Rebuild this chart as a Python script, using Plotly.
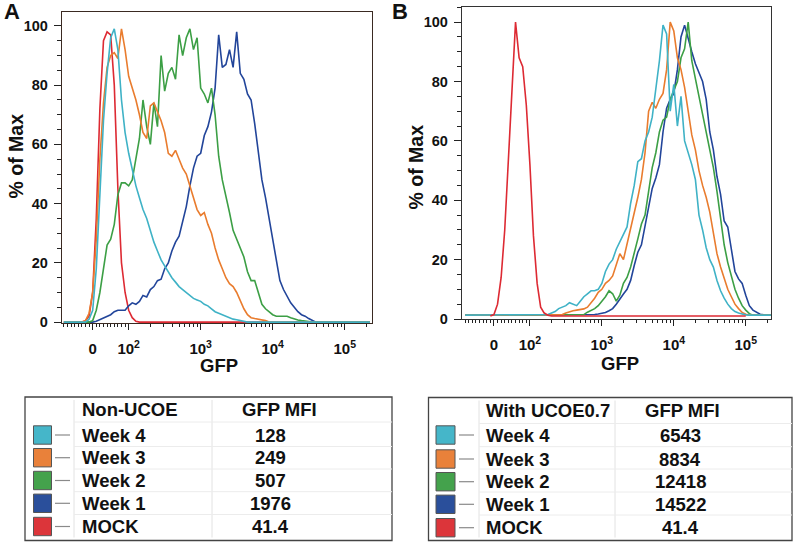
import numpy as np
import plotly.graph_objects as go

# ---------------- data ----------------
# GFP histogram bin centres (fluorescence intensity)
GFP_BINS = [
    -80, -70, -60, -50, -40, -30, -20, -10, 0, 10,
    20, 30, 40, 50, 60, 70, 80, 90,
    100, 112, 126, 141, 158, 178, 200, 224, 251, 282, 316, 355, 398, 447, 501, 562, 631, 708, 794, 891,
    1000, 1122, 1259, 1413, 1585, 1778, 1995, 2239, 2512, 2818, 3162, 3548, 3981, 4467, 5012, 5623, 6310, 7079, 7943, 8913,
    10000, 11220, 12589, 14125, 15849, 17783, 19953, 22387, 25119, 28184, 31623, 35481, 39811, 44668, 50119, 56234, 63096, 70795, 79433, 89125,
    100000, 112202, 125893, 141254, 158489, 177828, 199526, 223872,
]

# Panel A (Non-UCOE), % of max
A_MOCK = [
    0, 0, 0, 0, 0, 0, 0.5, 2, 10, 35,
    72, 95, 98, 97, 80, 45, 20, 10, 4, 1.5,
    0.3, 0, 0, 0, 0, 0, 0, 0, 0, 0,
    0, 0, 0, 0, 0, 0, 0, 0, 0, 0,
    0, 0, 0, 0, 0, 0, 0, 0, 0, 0,
    0, 0, 0, 0, 0, 0, 0, 0, 0, 0,
    0, 0, 0, 0, 0, 0, 0, 0, 0, 0,
    0, 0, 0, 0, 0, 0, 0, 0, 0, 0,
    0, 0, 0, 0, 0, 0,
]
A_WEEK4 = [
    0, 0, 0, 0, 0, 0, 0, 1, 4, 18,
    45, 68, 84, 96, 99, 92, 75, 64, 57, 51,
    46, 42, 38, 35, 31, 27, 24, 21, 19, 17,
    15, 13.5, 12, 11, 10, 9, 8, 7.5, 7, 6,
    5.5, 4.5, 3.5, 3, 2.5, 2, 1.5, 1, 0.8, 0.5,
    0.3, 0, 0, 0, 0, 0, 0, 0, 0, 0,
    0, 0, 0, 0, 0, 0, 0, 0, 0, 0,
    0, 0, 0, 0, 0, 0, 0, 0, 0, 0,
    0, 0, 0, 0, 0, 0,
]
A_WEEK3 = [
    0, 0, 0, 0, 0, 0, 0.5, 3, 10, 28,
    55, 74, 86, 90, 91, 89, 99, 92, 83, 79,
    75, 70, 64, 62, 73, 74, 71, 68, 64, 57,
    56, 58, 55, 52, 50, 46, 42, 38, 36, 37,
    33, 30, 25, 21, 18, 15, 13, 12, 10, 7,
    4.5, 2.5, 1.5, 1.2, 1, 0.8, 0.5, 0, 0, 0,
    0, 0, 0, 0, 0, 0, 0, 0, 0, 0,
    0, 0, 0, 0, 0, 0, 0, 0, 0, 0,
    0, 0, 0, 0, 0, 0,
]
A_WEEK2 = [
    0, 0, 0, 0, 0, 0, 0, 0, 0.5, 4,
    10, 18, 26, 28, 33, 43, 47, 47, 46, 48,
    55, 62, 75, 66, 60, 74, 66, 90, 78, 84,
    86, 82, 97, 90, 96, 99, 92, 96, 79, 77,
    74, 79, 70, 56, 48, 43, 37, 31, 28, 25,
    22, 17, 14, 14, 10, 6, 4.5, 3.5, 2.5, 2,
    2, 2, 2, 1.5, 1, 0.7, 0.5, 0.3, 0, 0,
    0, 0, 0, 0, 0, 0, 0, 0, 0, 0,
    0, 0, 0, 0, 0, 0,
]
A_WEEK1 = [
    0, 0, 0, 0, 0, 0, 0, 0, 0, 0.3,
    0.8, 1.5, 2, 2.5, 3.5, 4, 4, 4, 5.5, 6.5,
    6, 7, 9, 8.5, 11, 12, 14, 14.5, 18, 20,
    24, 27, 29, 34, 39, 46, 52, 56, 57, 63,
    66, 71, 79, 97, 86, 87, 92, 86, 98, 84,
    82, 77, 75, 67, 57, 48, 42, 35, 27, 20,
    14, 11, 8.5, 6.5, 5, 3.5, 2.5, 2, 1.2, 0.5,
    0, 0, 0, 0, 0, 0, 0, 0, 0, 0,
    0, 0, 0, 0, 0, 0,
]

# Panel B (With UCOE0.7), % of max
B_MOCK = [
    None, None, None, None, None, None, None, 1.0, 1.5, 5,
    14, 30, 53, 76, 100, 88, 85, 72, 52, 28,
    12, 4, 2, 1.3, 1, 1, 1, 1, 1, 1,
    1, 1, 1, 1, 1, 1, 1, 1, 1, 1,
    1, 1, 1, 1, 1, 1, 1, 1, 1, 1,
    1, 1, 1, 1, 1, 1, 1, 1, 1, 1,
    1, 1, 1, 1, 1, 1, 1, 1, 1, 1,
    1, 1, 1, 1, 1, 1, 1, 1, 1, None,
    None, None, None, None, None, None,
]
B_WEEK4 = [
    1.3, 1.3, 1.3, 1.3, 1.3, 1.3, 1.3, 1.3, 1.3, 1.3,
    1.3, 1.3, 1.3, 1.3, 1.3, 1.3, 1.3, 1.3, 1.3, 1.3,
    1.3, 1.3, 1.3, 1.5, 2, 2.5, 3.5, 4, 4.5, 5.5,
    5, 4.5, 6, 7.5, 8.5, 9.5, 9.5, 10, 12, 16,
    18.5, 20, 23.5, 26, 28.5, 31, 39, 45, 53, 54,
    60, 63, 68, 77, 87, 99, 96, 70, 79, 65,
    75, 60, 56, 52, 47, 35, 30, 24, 20, 17.5,
    13, 9.5, 7, 5, 3.5, 2.5, 2, 1.6, 1.4, 1.3,
    1.3, 1.3, 1.3, 1.3, 1.3, 1.3,
]
B_WEEK3 = [
    1.3, 1.3, 1.3, 1.3, 1.3, 1.3, 1.3, 1.3, 1.3, 1.3,
    1.3, 1.3, 1.3, 1.3, 1.3, 1.3, 1.3, 1.3, 1.3, 1.3,
    1.3, 1.3, 1.3, 1.3, 1.3, 1.3, 1.3, 1.5, 2, 2.5,
    2.8, 3, 3.2, 3.4, 4, 5.5, 7, 9, 10, 12,
    13, 14.5, 18, 22, 20, 25, 30, 35, 41, 47,
    56, 70, 73, 71, 74, 76, 84, 100, 97, 88,
    84, 78, 70, 62, 57, 50, 45, 41, 36, 29,
    22, 17.5, 14, 10, 7.5, 5, 3.5, 2.2, 1.6, 1.3,
    1.3, 1.3, 1.3, 1.3, 1.3, 1.3,
]
B_WEEK2 = [
    1.3, 1.3, 1.3, 1.3, 1.3, 1.3, 1.3, 1.3, 1.3, 1.3,
    1.3, 1.3, 1.3, 1.3, 1.3, 1.3, 1.3, 1.3, 1.3, 1.3,
    1.3, 1.3, 1.3, 1.3, 1.3, 1.3, 1.3, 1.3, 1.3, 1.3,
    1.3, 1.3, 1.3, 1.5, 2.3, 3, 3.5, 4.5, 6, 7.5,
    9.5, 8.5, 6, 8, 12, 14, 17.5, 22, 27, 32,
    35, 43, 51, 56, 63, 67, 68, 74, 77, 80,
    88, 91, 100, 87, 81, 75, 69, 63, 57, 51,
    43, 33, 25, 19, 14, 10, 7, 4.5, 3, 1.8,
    1.3, 1.3, 1.3, 1.3, 1.3, 1.3,
]
B_WEEK1 = [
    1.3, 1.3, 1.3, 1.3, 1.3, 1.3, 1.3, 1.3, 1.3, 1.3,
    1.3, 1.3, 1.3, 1.3, 1.3, 1.3, 1.3, 1.3, 1.3, 1.3,
    1.3, 1.3, 1.3, 1.3, 1.3, 1.3, 1.3, 1.3, 1.3, 1.3,
    1.3, 1.3, 1.3, 1.3, 1.3, 1.4, 1.5, 1.7, 2, 2.2,
    2.8, 3.5, 5, 6.5, 8.4, 10, 13, 18, 22.5, 25,
    31, 37, 44, 47.5, 52, 63, 71, 74, 76, 84,
    95, 99, 94, 90, 86, 83, 80, 74, 63, 57,
    48, 42, 33, 31, 23, 16, 13.5, 12, 8, 4.5,
    3, 2.2, 1.6, 1.4, 1.3, 1.3,
]

ROW_NAMES = ["Week 4", "Week 3", "Week 2", "Week 1", "MOCK"]
A_MFI = ["128", "249", "507", "1976", "41.4"]
B_MFI = ["6543", "8834", "12418", "14522", "41.4"]
A_HEADER = "Non-UCOE"
B_HEADER = "With UCOE0.7"
MFI_HEADER = "GFP MFI"

X_TICK_VALUES = [0, 100, 1000, 10000, 100000]
X_TICK_LABELS = ["0", "10<sup>2</sup>", "10<sup>3</sup>", "10<sup>4</sup>", "10<sup>5</sup>"]
X_MINOR_VALUES = [-80, -70, -60, -50, -40, -30, -20, -10,
                  10, 20, 30, 40, 50, 60, 70, 80, 90,
                  200, 300, 400, 500, 600, 700, 800, 900,
                  2000, 3000, 4000, 5000, 6000, 7000, 8000, 9000,
                  20000, 30000, 40000, 50000, 60000, 70000, 80000, 90000,
                  200000]
Y_TICK_VALUES = [0, 20, 40, 60, 80, 100]

# ---------------- styling ----------------
COLORS = {"Week 4": "#3fb2c6", "Week 3": "#e97c2e", "Week 2": "#3c9f45",
          "Week 1": "#22459a", "MOCK": "#dd2a33"}
SWATCH = {"Week 4": "#45b6c9", "Week 3": "#e9813a", "Week 2": "#44a24c",
          "Week 1": "#2a4f9b", "MOCK": "#dc353a"}
FONT = "Liberation Sans, Arial, sans-serif"
W, H = 800, 545


def display(v):
    """Biexponential-like display transform: linear near zero, log above 100."""
    v = np.asarray(v, dtype=float)
    return np.where(v >= 100, np.log10(np.maximum(v, 100)), 1.5 + v / 200.0)


def px(x):
    return x / W


def py(y):
    return 1 - y / H


fig = go.Figure()
xb = display(GFP_BINS)

panelA = [("MOCK", A_MOCK), ("Week 1", A_WEEK1), ("Week 2", A_WEEK2),
          ("Week 3", A_WEEK3), ("Week 4", A_WEEK4)]
panelB = [("Week 1", B_WEEK1), ("Week 2", B_WEEK2), ("Week 3", B_WEEK3),
          ("Week 4", B_WEEK4), ("MOCK", B_MOCK)]

for name, ys in panelA:
    fig.add_trace(go.Scatter(x=xb, y=ys, mode="lines", xaxis="x", yaxis="y",
                             line=dict(color=COLORS[name], width=1.6),
                             showlegend=False, connectgaps=False))
for name, ys in panelB:
    fig.add_trace(go.Scatter(x=xb, y=ys, mode="lines", xaxis="x2", yaxis="y2",
                             line=dict(color=COLORS[name], width=1.6),
                             showlegend=False, connectgaps=False))

tickfont = dict(family=FONT, size=15, color="#111", weight="bold")
ytickfont = dict(family=FONT, size=14.5, color="#111", weight="bold")


def xaxis_cfg(dom, rng, linecolor):
    return dict(domain=dom, range=rng, autorange=False, automargin=False,
                showgrid=False, zeroline=False,
                showline=True, mirror=True, linecolor=linecolor, linewidth=1.3,
                tickmode="array", tickvals=display(X_TICK_VALUES), ticktext=X_TICK_LABELS,
                ticks="outside", ticklen=6, tickwidth=1.2, tickcolor="#222",
                ticklabelstandoff=6,
                minor=dict(tickmode="array", tickvals=display(X_MINOR_VALUES),
                           ticks="outside", ticklen=3, tickwidth=1, tickcolor="#222"),
                tickfont=tickfont)


def yaxis_cfg(dom, rng, linecolor, anchor):
    return dict(domain=dom, range=rng, autorange=False, automargin=False,
                showgrid=False, zeroline=False, anchor=anchor,
                showline=True, mirror=True, linecolor=linecolor, linewidth=1.3,
                tickmode="array", tickvals=Y_TICK_VALUES,
                ticks="outside", ticklen=7, tickwidth=1.2, tickcolor="#222",
                ticklabelstandoff=3,
                minor=dict(dtick=5, ticks="outside", ticklen=4, tickwidth=1, tickcolor="#222"),
                tickfont=ytickfont)


fig.update_layout(
    template="none",
    width=W, height=H, margin=dict(l=0, r=0, t=0, b=0, pad=0, autoexpand=False),
    paper_bgcolor="white", plot_bgcolor="white",
    xaxis=dict(anchor="y", **xaxis_cfg([px(62), px(372)], [1.074, 5.379], "#3a2a22")),
    yaxis=yaxis_cfg([py(323), py(12)], [-0.3, 104.7], "#3a2a22", "x"),
    xaxis2=dict(anchor="y2", **xaxis_cfg([px(462), px(771)], [1.056, 5.351], "#333333")),
    yaxis2=yaxis_cfg([py(319), py(6.7)], [0, 105.2], "#333333", "x2"),
)

ann = []
shapes = []


def text(x, y, s, size, xanchor="center", angle=0):
    ann.append(dict(x=px(x), y=py(y), xref="paper", yref="paper", text=s, showarrow=False,
                    xanchor=xanchor, yanchor="middle", textangle=angle,
                    font=dict(family=FONT, size=size, color="#111", weight="bold")))


# panel letters and axis titles
text(12, 11, "A", 22)
text(400, 11, "B", 22)
text(15.5, 156, "% of Max", 19.5, angle=-90)
text(415.5, 167, "% of Max", 19.5, angle=-90)
text(219, 365, "GFP", 18.5)
text(620, 363, "GFP", 18.5)


def table(left, right, top, bottom, sw_l, sw_r, ln_l, ln_r, sep1, sep2, text_x, val_x, hdr_x,
          header, rows_y, row_lines_y, vals, header_y):
    shapes.append(dict(type="rect", xref="paper", yref="paper", x0=px(left), x1=px(right),
                       y0=py(bottom), y1=py(top), line=dict(color="#444", width=1.3)))
    for sx in (sep1, sep2):
        shapes.append(dict(type="line", xref="paper", yref="paper", x0=px(sx), x1=px(sx),
                           y0=py(bottom - 3), y1=py(top + 3), line=dict(color="#e2e2e2", width=1)))
    for ly in row_lines_y:
        shapes.append(dict(type="line", xref="paper", yref="paper", x0=px(sep1), x1=px(right),
                           y0=py(ly), y1=py(ly), line=dict(color="#ececec", width=1)))
    text(text_x, header_y, header, 18.5, xanchor="left")
    text(hdr_x, header_y, MFI_HEADER, 18.5)
    for name, yc, v in zip(ROW_NAMES, rows_y, vals):
        shapes.append(dict(type="rect", xref="paper", yref="paper", x0=px(sw_l), x1=px(sw_r),
                           y0=py(yc + 9.2), y1=py(yc - 9.2), fillcolor=SWATCH[name],
                           line=dict(color="#555", width=1)))
        shapes.append(dict(type="line", xref="paper", yref="paper", x0=px(ln_l), x1=px(ln_r),
                           y0=py(yc), y1=py(yc), line=dict(color="#8a8a8a", width=1.2)))
        text(text_x, yc, name, 18.5, xanchor="left")
        text(val_x, yc, v, 18.5)


table(25, 392, 397, 540.5, 33.5, 51.5, 55, 70, 74, 212, 80, 270, 279, A_HEADER,
      [435, 457.7, 480.5, 503.3, 526.5], [422, 446.5, 469, 491.7, 514.5], A_MFI, 409)
table(428.5, 792, 397.5, 540.5, 436, 455, 459, 474, 479, 615, 483.5, 680, 682, B_HEADER,
      [435, 459, 481.7, 504.3, 527.7], [423.5, 446.7, 469, 492, 515], B_MFI, 410)

fig.update_layout(annotations=ann, shapes=shapes)
fig.write_html(
    "out.html",
    config={"displayModeBar": False},
    post_script="document.body.style.margin='0';document.body.style.padding='0';"
                "document.documentElement.style.margin='0';",
)
